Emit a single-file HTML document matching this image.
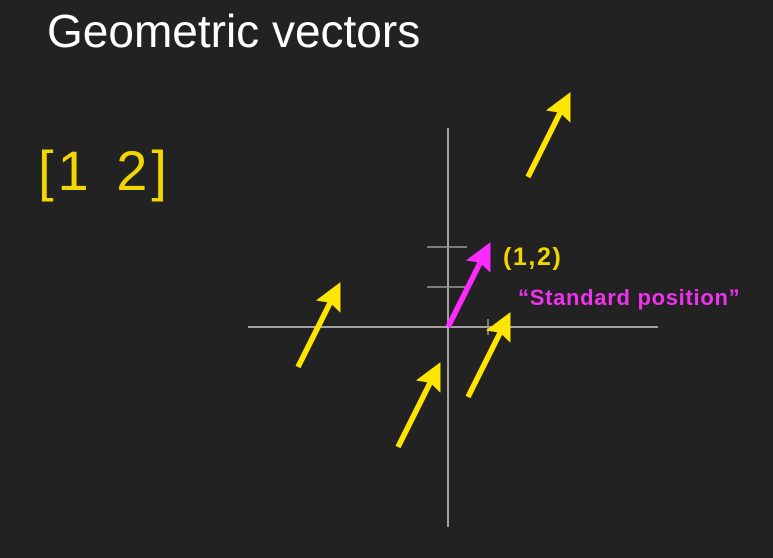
<!DOCTYPE html>
<html><head><meta charset="utf-8"><style>
html,body{margin:0;padding:0;background:#222222;}
body{width:773px;height:558px;position:relative;overflow:hidden;font-family:"Liberation Sans",sans-serif;}
.t{position:absolute;white-space:nowrap;}
</style></head><body>
<div class="t" style="left:47px;top:4px;font-size:46px;color:#fff;">Geometric vectors</div>
<div class="t" style="left:38px;top:138px;font-size:56px;color:#f2d600;font-weight:300;letter-spacing:4px;word-spacing:4px;">[1 2]</div>
<svg id="plot" width="773" height="558" style="position:absolute;left:0;top:0">
<defs>
<marker id="ay" markerWidth="5" markerHeight="5" refX="4" refY="2.5" orient="auto" markerUnits="strokeWidth"><path d="M0,0 L5,2.5 L0,5 L0.8,2.5 Z" fill="#ffe600"/></marker>
<marker id="am" markerWidth="5" markerHeight="5" refX="4" refY="2.5" orient="auto" markerUnits="strokeWidth"><path d="M0,0 L5,2.5 L0,5 L0.8,2.5 Z" fill="#ff2aff"/></marker>
</defs>
<line x1="248" y1="327" x2="658" y2="327" stroke="#ccc" stroke-width="1.5"/>
<line x1="448" y1="128" x2="448" y2="527" stroke="#ccc" stroke-width="1.5"/>
<line x1="427" y1="247" x2="467" y2="247" stroke="#999" stroke-width="1.5"/>
<line x1="427" y1="287" x2="467" y2="287" stroke="#999" stroke-width="1.5"/>
<line x1="488" y1="319" x2="488" y2="335" stroke="#998" stroke-width="1.5"/>
<text x="503" y="265" font-size="25" font-weight="bold" fill="#f2d600" letter-spacing="1.6" font-family="Liberation Sans, sans-serif">(1,2)</text>
<text x="518" y="305" font-size="22" font-weight="bold" fill="#ee33ee" letter-spacing="0.7" font-family="Liberation Sans, sans-serif">“Standard position”</text>
</svg>
<script>
const vecX = [1];
const vecY = [2];
const tailsX = [2, -3.75, -1.25, 0.5];
const tailsY = [3.75, -1, -3, -1.75];
const ox = 448, oy = 327, unit = 40;
const sx = v => ox + v * unit;
const sy = v => oy - v * unit;
const svg = document.getElementById('plot');
const NS = 'http://www.w3.org/2000/svg';
function arrow(x0, y0, x1, y1, col, mk, name) {
  const l = document.createElementNS(NS, 'line');
  l.setAttribute('x1', sx(x0)); l.setAttribute('y1', sy(y0));
  l.setAttribute('x2', sx(x1)); l.setAttribute('y2', sy(y1));
  l.setAttribute('stroke', col); l.setAttribute('stroke-width', '5.5');
  l.setAttribute('marker-end', 'url(#' + mk + ')');
  
  
  svg.appendChild(l);
}
for (let i = 0; i < tailsX.length; i++) {
  arrow(tailsX[i], tailsY[i], tailsX[i] + vecX[0], tailsY[i] + vecY[0], '#ffe600', 'ay', 'translated-vector');
}
arrow(0, 0, vecX[0], vecY[0], '#ff2aff', 'am', 'standard-vector');
</script>
</body></html>
